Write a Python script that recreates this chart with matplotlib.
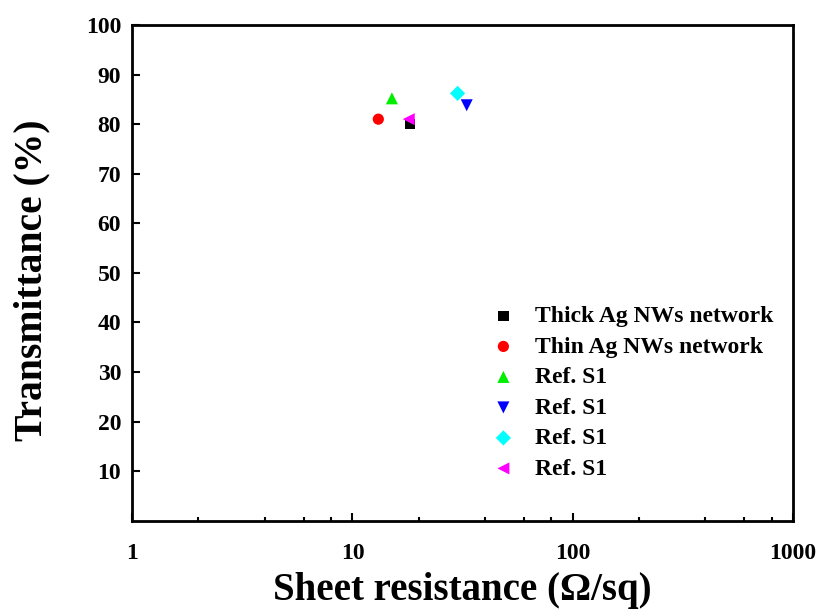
import matplotlib
matplotlib.use("Agg")
import matplotlib.pyplot as plt
from matplotlib.ticker import FixedLocator, NullFormatter

plt.rcParams['font.family'] = ['Liberation Serif', 'DejaVu Serif']
plt.rcParams['font.weight'] = 'bold'

# data
labels = ['Thick Ag NWs network', 'Thin Ag NWs network',
          'Ref. S1', 'Ref. S1', 'Ref. S1', 'Ref. S1']
resistance = [18.3, 13.1, 15.1, 33, 30, 18]
transmittance = [80, 81, 85.2, 83.8, 86.2, 81]
markers = ['s', 'o', '^', 'v', 'D', '<']
colors = ['black', 'red', '#00ee00', 'blue', 'cyan', 'magenta']
sizes = [55, 65, 75, 75, 60, 75]

fig = plt.figure(figsize=(8.21, 6.09), dpi=100)
ax = fig.add_axes([0.161, 0.145, 0.805, 0.814])

for x, y, m, c, s, lab in zip(resistance, transmittance, markers, colors, sizes, labels):
    ax.scatter(x, y, marker=m, c=c, s=s, label=lab, edgecolors='none')

ax.set_xscale('log')
ax.set_xlim(1, 1000)
ax.set_ylim(0, 100)
ax.set_yticks(range(10, 101, 10))
ax.xaxis.set_minor_locator(FixedLocator([d * k for d in (1, 10, 100) for k in (2, 4, 6, 8)]))
ax.xaxis.set_minor_formatter(NullFormatter())
ax.set_xticks([1, 10, 100, 1000])
ax.set_xticklabels(['1', '10', '100', '1000'])

ax.tick_params(which='major', direction='in', length=6, width=1.5, labelsize=17, pad=16)
ax.tick_params(axis='y', which='major', pad=8)
ax.tick_params(which='minor', direction='in', length=3, width=1.5)
for sp in ax.spines.values():
    sp.set_linewidth(2)

ax.set_xlabel('Sheet resistance (Ω/sq)', fontsize=28, fontweight='bold')
ax.xaxis.set_label_coords(0.5, -0.103)
ax.set_ylabel('Transmittance (%)', fontsize=28.5, fontweight='bold')
ax.yaxis.set_label_coords(-0.124, 0.486)

ax.legend(loc='lower right', bbox_to_anchor=(1.002, 0.04), frameon=False,
          prop={'size': 17, 'weight': 'bold'}, handletextpad=0.33,
          labelspacing=0.38, scatterpoints=1)

fig.savefig('out.png', dpi=100)
